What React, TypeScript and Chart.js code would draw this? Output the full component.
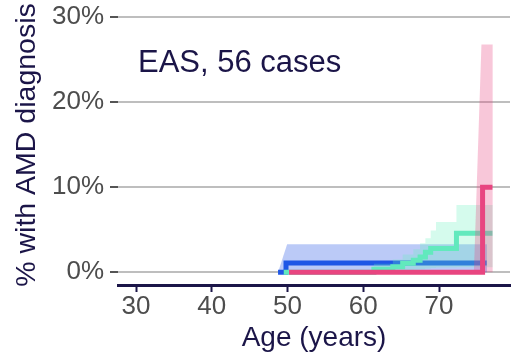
import React, { useEffect, useRef } from "react";
import { Chart, registerables } from "chart.js";

Chart.register(...registerables);

// ---- data (age in years, cumulative % with AMD diagnosis) ----
const xTicks = [30, 40, 50, 60, 70];
const yTicks = [0, 10, 20, 30];

// blue group
const blueAges = [48.75, 49.8, 76.3];
const blueEst = [0, 1.1, 1.1];
const blueBandAges = [48.75, 49.95, 76.35];
const blueUpper = [0, 3.3, 3.3];
const blueLower = [0, 0, 0];

// cyan group
const cyanAges = [49.5, 61.4, 63.9, 65.2, 66.6, 67.5, 68.2, 68.9, 72.3, 77.05];
const cyanEst = [0, 0.35, 0.65, 1.05, 1.4, 1.8, 2.35, 2.8, 4.6, 4.6];
const cyanBandAges = [49.5, 61.4, 63.9, 65.2, 66.6, 67.5, 68.2, 68.9, 69.6, 72.3, 77.1];
const cyanUpper = [0, 1.0, 1.5, 2.1, 2.7, 3.4, 4.0, 4.9, 5.9, 7.9, 7.9];
const cyanLower = [0, 0.05, 0.1, 0.2, 0.3, 0.35, 0.45, 0.5, 0.55, 0.6, 0.6];

// pink group
const pinkAges = [50.2, 75.75, 77.05];
const pinkEst = [0, 10, 10];
const pinkBandAges = [50.2, 74.6, 75.6, 77.1];
const pinkUpper = [0, 0, 26.8, 26.8];
const pinkLower = [0, 0, 0, 0];

const annotationText = "EAS, 56 cases";
const xTitle = "Age (years)";
const yTitle = "% with AMD diagnosis";

const NAVY = "#1b1548";
const GREY_TXT = "#4d4d4d";
const FONT = "'Liberation Sans', Arial, sans-serif";

const pts = (xs: number[], ys: number[]) => xs.map((x, i) => ({ x, y: ys[i] }));

export default function App() {
  const ref = useRef<HTMLCanvasElement | null>(null);

  useEffect(() => {
    if (!ref.current) return;

    const texts = {
      id: "texts",
      afterDraw(chart: any) {
        const { ctx, chartArea } = chart;
        ctx.save();
        ctx.font = `31px ${FONT}`;
        ctx.fillStyle = NAVY;
        ctx.textAlign = "left";
        ctx.textBaseline = "alphabetic";
        ctx.fillText(annotationText, chartArea.left + 20, chartArea.top + 63);
        ctx.restore();

        ctx.save();
        ctx.font = `28.5px ${FONT}`;
        ctx.fillStyle = NAVY;
        ctx.textAlign = "center";
        ctx.textBaseline = "alphabetic";
        ctx.translate(35, (chartArea.top + chartArea.bottom) / 2 - 2);
        ctx.rotate(-Math.PI / 2);
        ctx.fillText(yTitle, 0, 0);
        ctx.restore();
      },
    };

    const band = (xs: number[], ys: number[], color: string, fillTarget: number | false, order: number, stepped: any) => ({
      data: pts(xs, ys),
      borderWidth: 0,
      borderColor: "rgba(0,0,0,0)",
      backgroundColor: color,
      pointRadius: 0,
      fill: fillTarget === false ? false : { target: fillTarget },
      stepped,
      tension: 0,
      order,
    });

    const line = (xs: number[], ys: number[], color: string, order: number) => ({
      data: pts(xs, ys),
      borderWidth: 5,
      borderColor: color,
      backgroundColor: color,
      pointRadius: 0,
      fill: false,
      stepped: "before",
      tension: 0,
      borderCapStyle: "butt",
      borderJoinStyle: "miter",
      order,
    });

    const chart = new Chart(ref.current, {
      type: "line",
      data: {
        datasets: [
          band(blueBandAges, blueUpper, "rgba(30,80,230,0.3)", 1, 6, false) as any,
          band(blueBandAges, blueLower, "rgba(0,0,0,0)", false, 6, false) as any,
          line(blueAges, blueEst, "#1f57e6", 5) as any,
          band(cyanBandAges, cyanUpper, "rgba(100,240,190,0.27)", 4, 4, "before") as any,
          band(cyanBandAges, cyanLower, "rgba(0,0,0,0)", false, 4, "before") as any,
          line(cyanAges, cyanEst, "#62e9bd", 3) as any,
          band(pinkBandAges, pinkUpper, "rgba(232,68,128,0.3)", 7, 2, false) as any,
          band(pinkBandAges, pinkLower, "rgba(0,0,0,0)", false, 2, false) as any,
          line(pinkAges, pinkEst, "#e84580", 1) as any,
        ],
      },
      options: {
        animation: false,
        responsive: true,
        maintainAspectRatio: false,
        layout: { padding: { top: 9, right: 1, left: 0, bottom: 0 } },
        plugins: {
          legend: { display: false },
          tooltip: { enabled: false },
        },
        scales: {
          x: {
            type: "linear",
            min: 27.62,
            max: 79.37,
            afterBuildTicks: (s: any) => {
              s.ticks = xTicks.map((v) => ({ value: v }));
            },
            afterFit: (s: any) => {
              s.height = 73;
              s.paddingLeft = 0;
              s.paddingRight = 0;
            },
            border: { display: true, color: NAVY, width: 3 },
            grid: {
              display: true,
              drawOnChartArea: false,
              drawTicks: true,
              tickLength: 7,
              tickColor: NAVY,
              tickWidth: 2,
            },
            ticks: {
              color: GREY_TXT,
              font: { family: FONT, size: 26 },
              padding: -1,
              maxRotation: 0,
              callback: (v: any) => String(v),
            },
            title: {
              display: true,
              text: xTitle,
              color: NAVY,
              font: { family: FONT, size: 28 },
              padding: { top: 0, bottom: 3 },
            },
          },
          y: {
            type: "linear",
            min: -1.5,
            max: 30.97,
            afterBuildTicks: (s: any) => {
              s.ticks = yTicks.map((v) => ({ value: v }));
            },
            afterFit: (s: any) => {
              s.width = 118;
              s.paddingTop = 0;
              s.paddingBottom = 0;
            },
            border: { display: false },
            grid: {
              color: "#bebebe",
              lineWidth: 2,
              drawTicks: true,
              tickLength: 8,
              tickColor: "#555555",
              tickWidth: 2,
            },
            ticks: {
              color: GREY_TXT,
              font: { family: FONT, size: 26 },
              padding: 6,
              callback: (v: any) => `${v}%`,
            },
            title: { display: false },
          },
        },
      } as any,
      plugins: [texts],
    });

    return () => chart.destroy();
  }, []);

  return (
    <div style={{ position: "absolute", left: 0, top: 0, width: 511, height: 358 }}>
      <canvas ref={ref} />
    </div>
  );
}
